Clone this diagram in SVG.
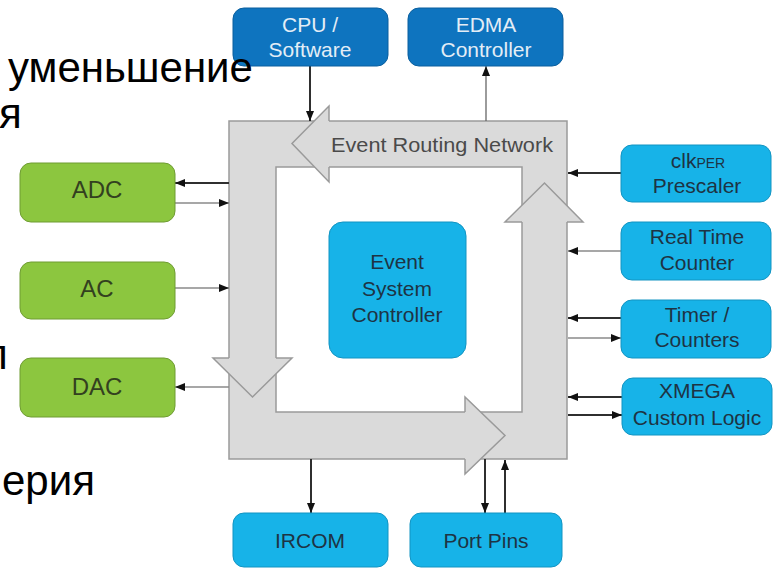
<svg xmlns="http://www.w3.org/2000/svg" width="773" height="568" viewBox="0 0 773 568">
  <style>
    .lbl { font-family: "Liberation Sans", Arial, sans-serif; font-size: 21px; text-anchor: middle; }
    .dark { fill: #1e3344; }
    .light { fill: #e3edf6; }
    .green-lbl { font-family: "Liberation Sans", Arial, sans-serif; font-size: 24px; text-anchor: middle; fill: #33401f; }
    .cpu { fill: #0e74bf; stroke: #0a5f9e; stroke-width: 1; }
    .cyan { fill: #17b3e8; stroke: #1294c2; stroke-width: 1; }
    .green { fill: #8cc63f; stroke: #6f9c33; stroke-width: 1; }
    .band { fill: #dadada; stroke: #9a9a9a; stroke-width: 1.5; }
    .hole { fill: #ffffff; stroke: #9a9a9a; stroke-width: 1.5; }
    .head { fill: #dadada; stroke: none; }
    .edge { fill: none; stroke: #9a9a9a; stroke-width: 1.5; stroke-linejoin: miter; }
    .wire-d { fill: none; stroke: #2f2f2f; stroke-width: 2; }
    .wire-l { fill: none; stroke: #8a8a8a; stroke-width: 1.3; }
    .slide { font-family: "Liberation Sans", Arial, sans-serif; font-size: 42px; fill: #000000; }
  </style>
  <defs>
    <marker id="tip" viewBox="0 0 10 8" refX="10" refY="4" markerWidth="10" markerHeight="8" markerUnits="userSpaceOnUse" orient="auto">
      <path d="M0,0 L10,4 L0,8 z" fill="#111111"/>
    </marker>
  </defs>

  <rect width="773" height="568" fill="#ffffff"/>

  <!-- Event routing network: square ring with four arrows -->
  <g id="routing-network">
    <rect class="band" x="229" y="121" width="338" height="338"/>
    <rect class="hole" x="276" y="167" width="246" height="245"/>
    <!-- top arrow, pointing left -->
    <polygon class="head" points="329,106 292,143.5 329,182"/>
    <path class="edge" d="M329,121 V106 L292,143.5 L329,182 V167"/>
    <!-- left arrow, pointing down -->
    <polygon class="head" points="213,358 252.5,397 292,358"/>
    <path class="edge" d="M229,358 H213 L252.5,397 L292,358 H276"/>
    <!-- bottom arrow, pointing right -->
    <polygon class="head" points="465,397 505,435.5 465,474"/>
    <path class="edge" d="M465,412 V397 L505,435.5 L465,474 V459"/>
    <!-- right arrow, pointing up -->
    <polygon class="head" points="505,222 544.5,183 583,222"/>
    <path class="edge" d="M522,222 H505 L544.5,183 L583,222 H567"/>
    <text class="lbl" x="442" y="152" fill="#4a4a4a" textLength="222" lengthAdjust="spacingAndGlyphs">Event Routing Network</text>
  </g>

  <!-- connectors -->
  <g id="connectors">
    <line class="wire-d" x1="310" y1="66" x2="310" y2="121" marker-end="url(#tip)"/>
    <line class="wire-l" x1="486" y1="121" x2="486" y2="66" marker-end="url(#tip)" style="stroke:#666"/>
    <line class="wire-d" x1="229" y1="183" x2="175" y2="183" marker-end="url(#tip)"/>
    <line class="wire-l" x1="175" y1="203" x2="229" y2="203" marker-end="url(#tip)"/>
    <line class="wire-l" x1="175" y1="288" x2="229" y2="288" marker-end="url(#tip)"/>
    <line class="wire-l" x1="229" y1="387" x2="175" y2="387" marker-end="url(#tip)"/>
    <line class="wire-d" x1="621" y1="173" x2="568" y2="173" marker-end="url(#tip)"/>
    <line class="wire-l" x1="621" y1="251" x2="568" y2="251" marker-end="url(#tip)"/>
    <line class="wire-d" x1="621" y1="318" x2="568" y2="318" marker-end="url(#tip)"/>
    <line class="wire-l" x1="568" y1="338" x2="621" y2="338" marker-end="url(#tip)"/>
    <line class="wire-d" x1="622" y1="397" x2="568" y2="397" marker-end="url(#tip)"/>
    <line class="wire-d" x1="568" y1="415" x2="622" y2="415" marker-end="url(#tip)"/>
    <line class="wire-d" x1="311" y1="459" x2="311" y2="513" marker-end="url(#tip)"/>
    <line class="wire-d" x1="485" y1="459" x2="485" y2="513" marker-end="url(#tip)"/>
    <line class="wire-d" x1="505" y1="513" x2="505" y2="460" marker-end="url(#tip)"/>
  </g>

  <!-- top blocks -->
  <g id="cpu-software">
    <rect class="cpu" x="233" y="8" width="155" height="58" rx="11"/>
    <text class="lbl light" x="310" y="32">CPU /</text>
    <text class="lbl light" x="310" y="57">Software</text>
  </g>
  <g id="edma-controller">
    <rect class="cpu" x="408" y="8" width="155" height="58" rx="11"/>
    <text class="lbl light" x="486" y="32">EDMA</text>
    <text class="lbl light" x="486" y="57">Controller</text>
  </g>

  <!-- left peripherals -->
  <g id="adc">
    <rect class="green" x="20" y="163" width="155" height="59" rx="11"/>
    <text class="green-lbl" x="97" y="198">ADC</text>
  </g>
  <g id="ac">
    <rect class="green" x="20" y="262" width="155" height="57" rx="11"/>
    <text class="green-lbl" x="97" y="297">AC</text>
  </g>
  <g id="dac">
    <rect class="green" x="20" y="358" width="155" height="59" rx="11"/>
    <text class="green-lbl" x="97" y="395">DAC</text>
  </g>

  <!-- central controller -->
  <g id="event-system-controller">
    <rect class="cyan" x="329" y="222" width="137" height="136" rx="14"/>
    <text class="lbl dark" x="397" y="269">Event</text>
    <text class="lbl dark" x="397" y="296">System</text>
    <text class="lbl dark" x="397" y="322">Controller</text>
  </g>

  <!-- right peripherals -->
  <g id="clkper-prescaler">
    <rect class="cyan" x="621" y="145" width="150" height="57" rx="11"/>
    <text class="lbl dark" x="698" y="168">clk<tspan font-size="14">PER</tspan></text>
    <text class="lbl dark" x="697" y="193">Prescaler</text>
  </g>
  <g id="real-time-counter">
    <rect class="cyan" x="621" y="222" width="150" height="58" rx="11"/>
    <text class="lbl dark" x="697" y="244">Real Time</text>
    <text class="lbl dark" x="697" y="270">Counter</text>
  </g>
  <g id="timer-counters">
    <rect class="cyan" x="621" y="300" width="150" height="58" rx="11"/>
    <text class="lbl dark" x="697" y="322">Timer /</text>
    <text class="lbl dark" x="697" y="347">Counters</text>
  </g>
  <g id="xmega-custom-logic">
    <rect class="cyan" x="622" y="378" width="150" height="57" rx="11"/>
    <text class="lbl dark" x="697" y="398">XMEGA</text>
    <text class="lbl dark" x="697" y="425">Custom Logic</text>
  </g>

  <!-- bottom blocks -->
  <g id="ircom">
    <rect class="cyan" x="233" y="513" width="155" height="54" rx="11"/>
    <text class="lbl dark" x="310" y="548">IRCOM</text>
  </g>
  <g id="port-pins">
    <rect class="cyan" x="410" y="513" width="152" height="54" rx="11"/>
    <text class="lbl dark" x="486" y="548">Port Pins</text>
  </g>

  <!-- slide text around the figure -->
  <g id="slide-text">
    <text class="slide" x="8" y="82">уменьшение</text>
    <text class="slide" x="-1" y="128">я</text>
    <text class="slide" x="-15" y="369">п</text>
    <text class="slide" x="2" y="495">ерия</text>
  </g>
</svg>
